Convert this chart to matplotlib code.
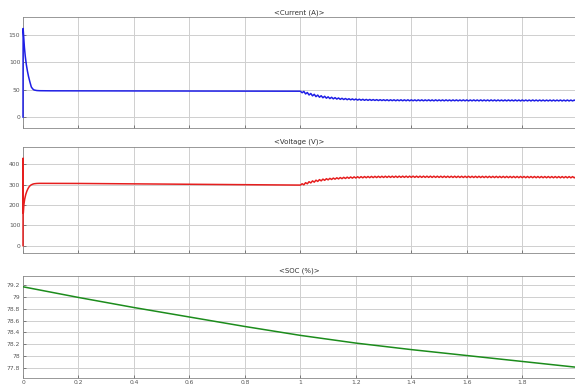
import numpy as np
import matplotlib
matplotlib.use('Agg')
import matplotlib.pyplot as plt

# ---- data ----
# start-up part (t < 1 s)
cur_head_t = [0, 0.0005, 0.002, 0.005, 0.008, 0.012, 0.016, 0.02, 0.025, 0.03, 0.035,
              0.04, 0.05, 0.06, 0.08, 0.1, 0.2, 0.3, 0.4, 0.5, 0.6, 0.7, 0.8, 0.9, 0.99]
cur_head = [0, 162, 150, 128, 112, 96, 84, 74, 64, 55, 51.5,
            49.5, 48.5, 48.2, 48.0, 48.0, 47.9, 47.8, 47.8, 47.7, 47.6, 47.5, 47.4, 47.3, 47.3]

volt_head_t = [0, 0.0005, 0.001, 0.003, 0.006, 0.01, 0.014, 0.018, 0.022, 0.026, 0.03,
               0.035, 0.04, 0.05, 0.06, 0.08, 0.1, 0.2, 0.3, 0.4, 0.5, 0.6, 0.7, 0.8, 0.9, 0.95, 0.99]
volt_head = [0, 430, 160, 200, 228, 252, 268, 280, 289, 295, 299,
             302, 304, 305.5, 306, 306, 306, 305.5, 304.5, 303.5, 302.5, 302, 301, 300, 298.5, 297.5, 297.5]

# after the step at t = 1 s, sampled every 6.25 ms (ripple)
tail_t = 1.0 + 0.00625 * np.arange(160)
cur_tail = [47.3, 44.5, 46.9, 42.3, 44.9, 40.4, 43.1, 38.8, 41.6, 37.4,
            40.2, 36.3, 39.0, 35.3, 38.0, 34.5, 37.0, 33.8, 36.2, 33.3,
            35.5, 32.9, 34.9, 32.4, 34.3, 32.1, 33.9, 31.8, 33.5, 31.5,
            33.2, 31.3, 33.0, 31.0, 32.7, 30.8, 32.5, 30.6, 32.3, 30.5,
            32.2, 30.5, 32.0, 30.4, 31.9, 30.2, 31.8, 30.2, 31.7, 30.1,
            31.7, 29.9, 31.6, 30.0, 31.6, 29.8, 31.5, 29.9, 31.6, 29.8,
            31.5, 29.8, 31.6, 29.7, 31.5, 29.8, 31.4, 29.7, 31.5, 29.8,
            31.5, 29.7, 31.4, 29.8, 31.5, 29.7, 31.4, 29.6, 31.5, 29.7,
            31.4, 29.7, 31.4, 29.6, 31.5, 29.7, 31.3, 29.6, 31.4, 29.7,
            31.4, 29.6, 31.3, 29.7, 31.4, 29.6, 31.4, 29.5, 31.3, 29.6,
            31.4, 29.6, 31.3, 29.5, 31.4, 29.6, 31.3, 29.6, 31.3, 29.5,
            31.4, 29.6, 31.3, 29.5, 31.3, 29.6, 31.2, 29.5, 31.3, 29.5,
            31.3, 29.6, 31.2, 29.5, 31.3, 29.5, 31.2, 29.4, 31.3, 29.5,
            31.2, 29.5, 31.2, 29.4, 31.3, 29.5, 31.2, 29.4, 31.2, 29.5,
            31.2, 29.4, 31.1, 29.5, 31.2, 29.4, 31.2, 29.4, 31.1, 29.5,
            31.2, 29.4, 31.1, 29.4, 31.2, 29.4, 31.1, 29.5, 31.1, 29.4]
volt_tail = [297.5, 304.0, 298.8, 309.4, 303.9, 314.1, 308.2, 318.1, 311.9, 321.6,
             315.4, 324.4, 318.3, 326.8, 320.9, 328.8, 323.2, 330.5, 325.1, 331.9,
             326.6, 333.3, 327.9, 334.5, 329.1, 335.6, 330.0, 336.5, 330.9, 337.3,
             331.6, 337.9, 332.2, 338.5, 332.7, 339.0, 333.2, 339.4, 333.6, 339.7,
             333.9, 340.1, 334.2, 340.4, 334.5, 340.6, 334.7, 340.8, 334.9, 341.0,
             335.1, 341.1, 335.2, 341.2, 335.3, 341.3, 335.3, 341.3, 335.4, 341.4,
             335.4, 341.4, 335.4, 341.3, 335.5, 341.4, 335.4, 341.3, 335.4, 341.3,
             335.3, 341.3, 335.4, 341.2, 335.3, 341.3, 335.2, 341.2, 335.3, 341.1,
             335.2, 341.1, 335.1, 341.1, 335.1, 341.0, 335.1, 340.9, 335.0, 341.0,
             334.9, 340.9, 334.9, 340.8, 334.8, 340.8, 334.8, 340.7, 334.7, 340.7,
             334.7, 340.6, 334.6, 340.6, 334.5, 340.5, 334.5, 340.4, 334.4, 340.4,
             334.4, 340.3, 334.3, 340.3, 334.3, 340.2, 334.2, 340.2, 334.1, 340.1,
             334.1, 340.0, 334.0, 340.0, 334.0, 339.9, 333.9, 339.9, 333.9, 339.8,
             333.8, 339.8, 333.8, 339.7, 333.7, 339.7, 333.7, 339.6, 333.6, 339.6,
             333.6, 339.5, 333.5, 339.5, 333.5, 339.4, 333.4, 339.4, 333.4, 339.3,
             333.3, 339.3, 333.3, 339.2, 333.2, 339.2, 333.2, 339.1, 333.1, 339.1]

soc_t = [0, 0.2, 0.4, 0.6, 0.8, 1.0, 1.2, 1.4, 1.6, 1.8, 2.0]
soc = [79.17, 78.99, 78.82, 78.66, 78.50, 78.35, 78.22, 78.11, 78.01, 77.91, 77.81]

titles = ['<Current (A)>', '<Voltage (V)>', '<SOC (%)>']
x_ticks = [0, 0.2, 0.4, 0.6, 0.8, 1, 1.2, 1.4, 1.6, 1.8]
x_ticklabels = ['0', '0.2', '0.4', '0.6', '0.8', '1', '1.2', '1.4', '1.6', '1.8']
cur_ticks = [0, 50, 100, 150]
volt_ticks = [0, 100, 200, 300, 400]
soc_ticks = [77.8, 78, 78.2, 78.4, 78.6, 78.8, 79, 79.2]
soc_ticklabels = ['77.8', '78', '78.2', '78.4', '78.6', '78.8', '79', '79.2']

cur_t = np.concatenate([cur_head_t, tail_t])
cur = np.concatenate([cur_head, cur_tail])
volt_t = np.concatenate([volt_head_t, tail_t])
volt = np.concatenate([volt_head, volt_tail])

fig = plt.figure(figsize=(5.75, 3.87), dpi=100)
fig.patch.set_facecolor('white')

# axes boxes measured in pixels from the reference
left = 23 / 575
width = 1 - left
ax1 = fig.add_axes([left, 1 - 128 / 387, width, 111 / 387])
ax2 = fig.add_axes([left, 1 - 253 / 387, width, 106.3 / 387])
ax3 = fig.add_axes([left, 1 - 377.7 / 387, width, 102 / 387])

# draw traces over the left spine so the t=0 spikes show
ax1.plot(cur_t, cur, color='#1f1fe6', lw=1.1, zorder=3, clip_on=False)
ax2.plot(volt_t, volt, color='#e61e1e', lw=1.1, zorder=3, clip_on=False)
ax3.plot(soc_t, soc, color='#1c8c1c', lw=1.1, zorder=3)

ax1.set_ylim(-20, 183)
ax2.set_ylim(-36, 486)
ax3.set_ylim(77.636, 79.357)
ax1.set_yticks(cur_ticks)
ax2.set_yticks(volt_ticks)
ax3.set_yticks(soc_ticks)
ax3.set_yticklabels(soc_ticklabels)

for ax, title in zip([ax1, ax2, ax3], titles):
    ax.set_xlim(0, 1.99)
    ax.set_xticks(x_ticks)
    ax.grid(True, color='#cfcfcf', lw=0.7)
    ax.set_axisbelow(True)
    ax.tick_params(direction='in', length=2, width=0.5, labelsize=4.3,
                   colors='#555555', pad=2)
    for s in ax.spines.values():
        s.set_color('#888888')
        s.set_linewidth(0.6)
    ax.set_title(title, fontsize=5, color='#333333', pad=2)

ax1.set_xticklabels([])
ax2.set_xticklabels([])
ax3.set_xticklabels(x_ticklabels)

fig.savefig('out.png', dpi=100, facecolor='white')
